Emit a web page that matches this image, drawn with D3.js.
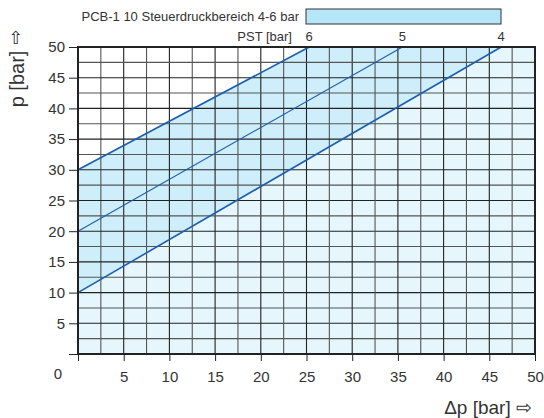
<!DOCTYPE html>
<html><head><meta charset="utf-8">
<script src="https://cdn.jsdelivr.net/npm/d3@7"></script>
<style>body{margin:0;background:#fff}svg{display:block;font-family:"Liberation Sans",Arial,sans-serif}</style>
</head><body><svg id="c" width="544" height="418"></svg>
<script>
const xTicks = [5,10,15,20,25,30,35,40,45,50];
const yTicks = [5,10,15,20,25,30,35,40,45,50];
const pstLabels = ["6","5","4"];
const pst6 = [[0,30],[25.3,50]];
const pst5 = [[0,20],[35.5,50]];
const pst4 = [[0,10],[46.3,50]];
const legendText = "PCB-1 10 Steuerdruckbereich 4-6 bar";

const svg = d3.select("#c");
const L=78,R=535,T=47,B=354;
const x = d3.scaleLinear().domain([0,50]).range([L,R]);
const y = d3.scaleLinear().domain([0,50]).range([B,T]);
const FF = "Liberation Sans, Arial, sans-serif";
const TC = "#333";

// background
svg.append("rect").attr("x",L).attr("y",T).attr("width",R-L).attr("height",B-T).attr("fill","#e5f6fd");
const ln = d3.line().x(d=>x(d[0])).y(d=>y(d[1]));
// band between PST6 and PST4
svg.append("path").attr("d", ln([pst6[0],pst6[1],pst4[1],pst4[0]])+"Z").attr("fill","#cdeefa");
// white above PST6
svg.append("path").attr("d", ln([pst6[0],pst6[1],[0,50]])+"Z").attr("fill","#ffffff");

// grid
const g = svg.append("g");
d3.range(0,50.01,2.5).forEach((v,i)=>{
  g.append("line").attr("x1",x(v)).attr("x2",x(v)).attr("y1",T).attr("y2",B).attr("stroke",i%2?"#555":"#222").attr("stroke-width",1.1);
  g.append("line").attr("y1",y(v)).attr("y2",y(v)).attr("x1",L).attr("x2",R).attr("stroke",i%2?"#555":"#222").attr("stroke-width",1.1);
});

// lines
[[pst6,1.6],[pst5,1.1],[pst4,1.6]].forEach(([d,w])=>{
  svg.append("path").attr("d",ln(d)).attr("fill","none").attr("stroke","#1d5fad").attr("stroke-width",w);
});

// border
svg.append("rect").attr("x",L).attr("y",T).attr("width",R-L).attr("height",B-T).attr("fill","none").attr("stroke","#222").attr("stroke-width",2);

// axes
const ya = svg.append("g").attr("transform",`translate(${L},0)`).call(d3.axisLeft(y).tickValues([0,...yTicks]).tickFormat(d=>d===0?"":d).tickSize(9).tickPadding(4));
ya.select(".domain").remove();
ya.selectAll("text").attr("font-size",15).attr("fill",TC).attr("font-family",FF);
ya.selectAll("line").attr("stroke","#222");
const xa = svg.append("g").attr("transform",`translate(0,${B})`).call(d3.axisBottom(x).tickValues([0,...xTicks]).tickFormat(d=>d===0?"":d).tickSize(7).tickPadding(10));
xa.select(".domain").remove();
xa.selectAll("text").attr("font-size",15).attr("fill",TC).attr("font-family",FF);
xa.selectAll("line").attr("stroke","#222");
svg.append("text").attr("x",58).attr("y",379).attr("text-anchor","middle").attr("font-size",15).attr("fill",TC).attr("font-family",FF).text("0");

// titles
svg.append("text").attr("transform","translate(24,79) rotate(-90)").attr("text-anchor","middle").attr("font-size",20).attr("fill",TC).attr("font-family",FF).text("p [bar]");
svg.append("text").attr("x",16).attr("y",44).attr("text-anchor","middle").attr("font-size",18).attr("fill",TC).attr("font-family","DejaVu Sans").text("⇧");
svg.append("text").attr("x",532).attr("y",414).attr("text-anchor","end").attr("font-size",19).attr("fill",TC).attr("font-family",FF).text("Δp [bar] ⇨");

// PST labels
svg.append("text").attr("x",292).attr("y",41).attr("text-anchor","end").attr("font-size",13).attr("fill",TC).attr("font-family",FF).text("PST [bar]");
[pst6,pst5,pst4].forEach((d,i)=>{
  svg.append("text").attr("x",x(d[1][0])).attr("y",41).attr("text-anchor","middle").attr("font-size",13).attr("fill",TC).attr("font-family",FF).text(pstLabels[i]);
});

// legend
svg.append("text").attr("x",299).attr("y",21).attr("text-anchor","end").attr("font-size",13).attr("fill",TC).attr("font-family",FF).text(legendText);
svg.append("rect").attr("x",306).attr("y",9).attr("width",195).attr("height",15).attr("fill","#b5e6f9").attr("stroke","#333").attr("stroke-width",1);
</script></body></html>
